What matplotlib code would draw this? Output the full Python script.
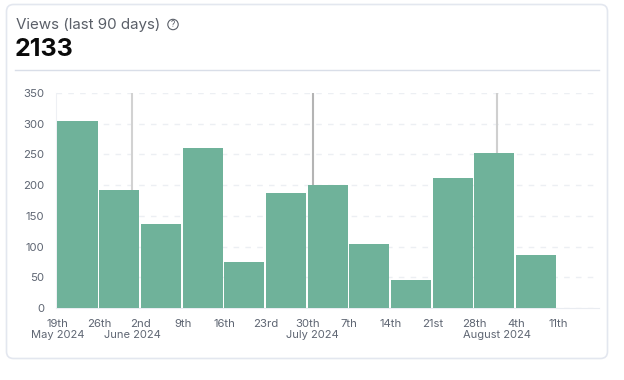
import pandas as pd
import matplotlib
matplotlib.use("Agg")
import matplotlib.pyplot as plt
from matplotlib.patches import FancyBboxPatch, Circle
from matplotlib.lines import Line2D

# values
week_starts = ["2024-05-19", "2024-05-26", "2024-06-02", "2024-06-09", "2024-06-16", "2024-06-23",
               "2024-06-30", "2024-07-07", "2024-07-14", "2024-07-21", "2024-07-28", "2024-08-04"]
views = [304, 192, 136, 260, 75, 188, 200, 105, 45, 211, 252, 87]
week_labels = ["19th", "26th", "2nd", "9th", "16th", "23rd", "30th", "7th", "14th", "21st", "28th", "4th", "11th"]
tick_dates = week_starts + ["2024-08-11"]
month_labels = ["May 2024", "June 2024", "July 2024", "August 2024"]
month_dates = ["2024-05-19 00:00", "2024-05-31 14:00", "2024-06-30 20:00", "2024-07-31 20:00"]
marker_dates = ["2024-05-31 14:00", "2024-06-30 20:00", "2024-07-31 20:00"]
marker_colors = ["#d2d2d2", "#b4b4b4", "#cfcfcf"]
y_ticks = [0, 50, 100, 150, 200, 250, 300, 350]

W, H = 624, 380
GREY = "#5f6673"
plt.rcParams["font.family"] = ["Inter", "DejaVu Sans"]

fig = plt.figure(figsize=(W / 100, H / 100), dpi=100)

# card and header, in pixel coordinates of the reference
bg = fig.add_axes([0, 0, 1, 1], zorder=0)
bg.set_xlim(0, W)
bg.set_ylim(H, 0)
bg.axis("off")
bg.add_patch(FancyBboxPatch((6.5, 4.5), 601, 354, boxstyle="round,pad=0,rounding_size=7",
                            fc="white", ec="#e3e7ef", lw=1.2))
bg.add_line(Line2D([15, 599], [70, 70], color="#d9dee8", lw=1))
bg.text(15.5, 25, "Views (last 90 days)", fontsize=10.9, color="#5a5f68", va="center", ha="left")
bg.add_patch(Circle((173, 24.5), 5.2, fc="none", ec="#5a5f68", lw=0.8))
bg.text(173, 24.7, "?", fontsize=6, color="#5a5f68", va="center", ha="center")
bg.text(15, 49.5, "2133", fontsize=18, fontweight="bold", color="#0a0a0a", va="center", ha="left")

ax = fig.add_axes([56 / W, 1 - 308 / H, (599 - 56) / W, (308 - 93) / H], zorder=1)
ax.patch.set_alpha(0)

x = pd.to_datetime(week_starts)
ax.bar(x, views, width=6.72, align="edge", color="#6fb29a", edgecolor="none", zorder=3)

for d, c in zip(pd.to_datetime(marker_dates), marker_colors):
    ax.axvline(d, color=c, lw=1.5, zorder=2)

ax.set_ylim(0, 350)
ax.set_yticks(y_ticks)
ax.set_xlim(pd.Timestamp("2024-05-18 18:00"), pd.Timestamp("2024-08-17 22:00"))

ax.xaxis.remove_overlapping_locs = False  # May 2024 sits on the 19th tick
ax.set_xticks(pd.to_datetime(tick_dates))
ax.set_xticklabels(week_labels)
ax.set_xticks(pd.to_datetime(month_dates), labels=month_labels, minor=True)
ax.xaxis.set_tick_params(which="major", length=0, pad=8, labelsize=8.2, labelcolor=GREY)
ax.xaxis.set_tick_params(which="minor", length=0, pad=16, labelsize=8, labelcolor=GREY)
ax.yaxis.set_tick_params(length=0, pad=8.5, labelsize=8.2, labelcolor=GREY)

ax.grid(axis="y", color="#eceff3", lw=1, ls=(0, (4, 4.5)), zorder=1)
ax.grid(axis="x", visible=False)
for s in ["top", "right"]:
    ax.spines[s].set_visible(False)
ax.spines["left"].set_color("#eef0f4")
ax.spines["bottom"].set_color("#e9ecf1")

fig.savefig("out.png", dpi=100, facecolor="white")
